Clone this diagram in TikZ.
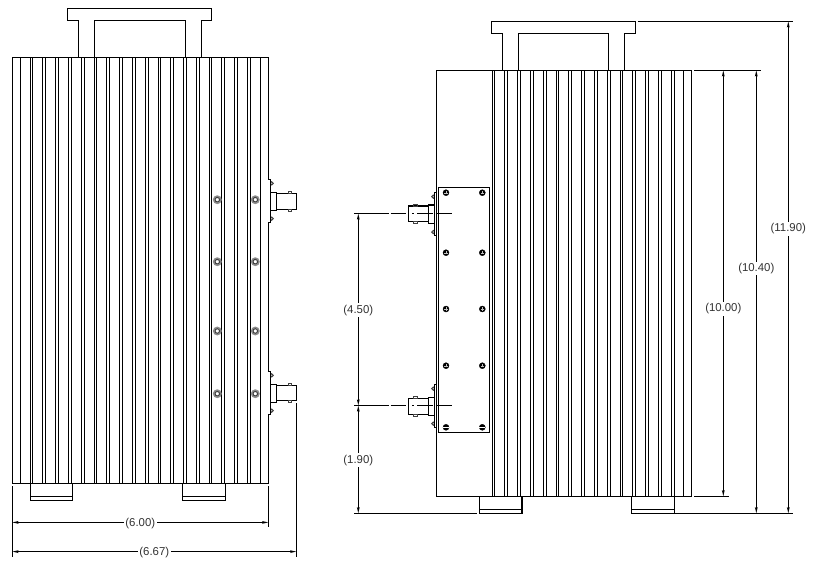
\documentclass[tikz,border=0pt]{standalone}
\usepackage{fontspec}
\setmainfont{Liberation Sans}
\usetikzlibrary{arrows.meta}
\tikzstyle{part}=[black, line width=1.15pt, line join=miter]
\tikzstyle{dim}=[black, line width=1.1pt, <->, >={Stealth[length=6pt,width=2.6pt,inset=1pt]}]
\tikzstyle{dimtext}=[fill=white, inner sep=1.5pt, yshift=-0.8pt, text=black!80, font=\fontsize{11.4}{13}\selectfont]
\tikzstyle{ring}=[black!45, line width=1.4pt]
\tikzstyle{ringin}=[black!75, line width=1.1pt]
\tikzstyle{screw}=[black, fill=black, line width=0.4pt]
\tikzstyle{slot}=[black!25, line width=0.3pt]
\tikzstyle{side}=[black!75, line width=1pt]

\begin{document}
\begin{tikzpicture}[x=1pt,y=-1pt]
\useasboundingbox (0,0) rectangle (816,566);

% left view
\draw [part] (12.3,57.3) rectangle (268.3,483.3);
\draw [part] (78.3,57.3) -- (78.3,20.3) -- (67.3,20.3) -- (67.3,8.3) -- (211.3,8.3) -- (211.3,20.3) -- (201.3,20.3) -- (201.3,57.3);
\draw [part] (94.3,57.3) -- (94.3,20.3) -- (185.3,20.3) -- (185.3,57.3);
\foreach \finx in {20.3,30.3,32.3,42.3,45.3,55.3,58.3,68.3,71.3,81.3,84.3,94.3,96.3,106.3,109.3,119.3,122.3,132.3,135.3,145.3,148.3,158.3,160.3,170.3,173.3,183.3,186.3,196.3,199.3,209.3,211.3,221.3,224.3,234.3,237.3,247.3,250.3,260.3}
  \draw [part] (\finx,57.3) -- (\finx,483.3);
\draw [part] (30.3,483.3) rectangle (72.3,500.3);
\draw [part] (30.3,496.3) -- (72.3,496.3);
\draw [part] (182.3,483.3) rectangle (225.3,500.3);
\draw [part] (182.3,496.3) -- (225.3,496.3);

\draw [ring] (217.3,199.7) circle [radius=3.7];
\draw [ringin] (217.3,199.7) circle [radius=2.3];
\draw [ring] (255.3,199.7) circle [radius=3.7];
\draw [ringin] (255.3,199.7) circle [radius=2.3];
\draw [ring] (217.3,261.7) circle [radius=3.7];
\draw [ringin] (217.3,261.7) circle [radius=2.3];
\draw [ring] (255.3,261.7) circle [radius=3.7];
\draw [ringin] (255.3,261.7) circle [radius=2.3];
\draw [ring] (217.3,331) circle [radius=3.7];
\draw [ringin] (217.3,331) circle [radius=2.3];
\draw [ring] (255.3,331) circle [radius=3.7];
\draw [ringin] (255.3,331) circle [radius=2.3];
\draw [ring] (217.3,393.7) circle [radius=3.7];
\draw [ringin] (217.3,393.7) circle [radius=2.3];
\draw [ring] (255.3,393.7) circle [radius=3.7];
\draw [ringin] (255.3,393.7) circle [radius=2.3];

% left view, connectors
\draw [side] (271.7,183.3) circle [radius=1.6];
\draw [side] (271.7,218.7) circle [radius=1.6];
\draw [part, fill=white] (268.3,179.3) -- (270.7,179.3) -- (270.7,222.7) -- (268.3,222.7);
\draw [part] (270.7,192.3) rectangle (276.7,210.7);
\draw [part] (276.7,193.3) rectangle (296.7,209.3);
\draw [side] (288.3,193.3) rectangle (291.7,191.3);
\draw [side] (288.3,209.3) rectangle (291.7,211.3);

\draw [side] (271.7,375.3) circle [radius=1.6];
\draw [side] (271.7,410.7) circle [radius=1.6];
\draw [part, fill=white] (268.3,371.3) -- (270.7,371.3) -- (270.7,414.7) -- (268.3,414.7);
\draw [part] (270.7,384.3) rectangle (276.7,402.3);
\draw [part] (276.7,385.3) rectangle (296.7,400.7);
\draw [side] (288.3,385.3) rectangle (291.7,383.3);
\draw [side] (288.3,400.7) rectangle (291.7,402.7);

% right view
\draw [part] (436.3,70.3) rectangle (691.5,496.3);
\draw [part] (502.3,70.3) -- (502.3,33.3) -- (491.3,33.3) -- (491.3,21.3) -- (635.7,21.3) -- (635.7,33.3) -- (624.3,33.3) -- (624.3,70.3);
\draw [part] (518.3,70.3) -- (518.3,33.3) -- (608.3,33.3) -- (608.3,70.3);
\foreach \finx in {492.5,494.5,504.3,507.3,517.3,520.3,530.3,533.3,543.3,546.3,556.3,558.3,568.3,571.3,581.3,584.3,594.3,597.3,607.3,610.3,620.3,622.3,632.3,635.3,645.3,648.3,658.3,661.3,671.3,674.3,683.3}
  \draw [part] (\finx,70.3) -- (\finx,496.3);
\draw [part] (479.3,496.3) -- (479.3,513.3) -- (522,513.3) -- (522,496.3);
\draw [part] (479.3,509.3) -- (522,509.3);
\draw [part] (631.3,496.3) -- (631.3,513.3) -- (674.3,513.3) -- (674.3,496.3);
\draw [part] (631.3,509.3) -- (674.3,509.3);
\draw [part] (438.3,187.3) rectangle (489.7,432.3);

\draw [screw] (446,192.7) circle [radius=3];
\draw [slot] (444.3,192.7) -- (447.7,192.7) (446,191) -- (446,194.4);
\draw [screw] (482.3,192.7) circle [radius=3];
\draw [slot] (480.6,192.7) -- (484,192.7) (482.3,191) -- (482.3,194.4);
\draw [screw] (446,252.7) circle [radius=3];
\draw [slot] (444.3,252.7) -- (447.7,252.7) (446,251) -- (446,254.4);
\draw [screw] (482.3,252.7) circle [radius=3];
\draw [slot] (480.6,252.7) -- (484,252.7) (482.3,251) -- (482.3,254.4);
\draw [screw] (446,309) circle [radius=3];
\draw [slot] (444.3,309) -- (447.7,309) (446,307.3) -- (446,310.7);
\draw [screw] (482.3,309) circle [radius=3];
\draw [slot] (480.6,309) -- (484,309) (482.3,307.3) -- (482.3,310.7);
\draw [screw] (446,365.7) circle [radius=3];
\draw [slot] (444.3,365.7) -- (447.7,365.7) (446,364) -- (446,367.4);
\draw [screw] (482.3,365.7) circle [radius=3];
\draw [slot] (480.6,365.7) -- (484,365.7) (482.3,364) -- (482.3,367.4);
\draw [screw] (446,427.3) circle [radius=3];
\draw [white, line width=0.6pt] (443,427.3) -- (449,427.3);
\draw [screw] (482.3,427.3) circle [radius=3];
\draw [white, line width=0.6pt] (479.3,427.3) -- (485.3,427.3);

% right view, connectors
\draw [side] (433.3,196.7) circle [radius=1.6];
\draw [side] (433.3,232) circle [radius=1.6];
\draw [part, fill=white] (436.3,192.3) -- (434.5,192.3) -- (434.5,235.7) -- (436.3,235.7);
\draw [part] (428.3,205) rectangle (434.5,223.3);
\draw [part] (408.3,206) rectangle (428.3,221.7);
\draw [side] (413.3,206) rectangle (417,204);
\draw [side] (413.3,221.7) rectangle (417,223.3);

\draw [side] (433.3,388.7) circle [radius=1.6];
\draw [side] (433.3,423.7) circle [radius=1.6];
\draw [part, fill=white] (436.3,384.3) -- (434.5,384.3) -- (434.5,427.7) -- (436.3,427.7);
\draw [part] (428.3,397.3) rectangle (434.5,415.3);
\draw [part] (408.3,398.3) rectangle (428.3,414.3);
\draw [side] (413.3,398.3) rectangle (417,396.3);
\draw [side] (413.3,414.3) rectangle (417,416);

% centre lines
\draw [part] (354,213.5) -- (388.7,213.5);
\draw [part] (390.7,213.5) -- (405.7,213.5);
\draw [part] (412,213.5) -- (414,213.5);
\draw [part] (417,213.5) -- (433,213.5);
\draw [part] (435.7,213.5) -- (452,213.5);
\draw [part] (354,405.5) -- (388.7,405.5);
\draw [part] (390.7,405.5) -- (405.7,405.5);
\draw [part] (412,405.5) -- (414,405.5);
\draw [part] (417,405.5) -- (433,405.5);
\draw [part] (435.7,405.5) -- (452,405.5);

% extension lines
\draw [part] (12.3,486) -- (12.3,556.7);
\draw [part] (268.3,486) -- (268.3,526.7);
\draw [part] (296.3,403) -- (296.3,556.7);
\draw [part] (637.7,21.3) -- (792.7,21.3);
\draw [part] (694,70.3) -- (760.7,70.3);
\draw [part] (694,496.3) -- (728.7,496.3);
\draw [part] (354,513.3) -- (476.7,513.3);
\draw [part] (674.3,513.3) -- (792.7,513.3);

% dimensions
\coordinate (widthl) at (12.3,522.4);
\coordinate (widthr) at (268.3,522.4);
\coordinate (totall) at (12.3,551.6);
\coordinate (totalr) at (296.3,551.6);
\coordinate (bnctop) at (358.3,213.5);
\coordinate (bncbot) at (358.3,405.5);
\coordinate (base) at (358.3,513.3);
\coordinate (bodyt) at (723.3,70.3);
\coordinate (bodyb) at (723.3,496.3);
\coordinate (feett) at (756.3,70.3);
\coordinate (feetb) at (756.3,513.3);
\coordinate (allt) at (788.3,21.3);
\coordinate (allb) at (788.3,513.3);

\draw [dim] (widthl) -- node [dimtext] (w600) {(6.00)} (widthr);
\draw [dim] (totall) -- node [dimtext] (w667) {(6.67)} (totalr);
\draw [dim] (bnctop) -- node [dimtext] (h450) {(4.50)} (bncbot);
\draw [dim] (bncbot) -- node [dimtext] (h190) {(1.90)} (base);
\draw [dim] (bodyt) -- node [dimtext, pos=0.558] (h1000) {(10.00)} (bodyb);
\draw [dim] (feett) -- node [dimtext, pos=0.446] (h1040) {(10.40)} (feetb);
\draw [dim] (allt) -- node [dimtext, pos=0.42] (h1190) {(11.90)} (allb);
\end{tikzpicture}
\end{document}
